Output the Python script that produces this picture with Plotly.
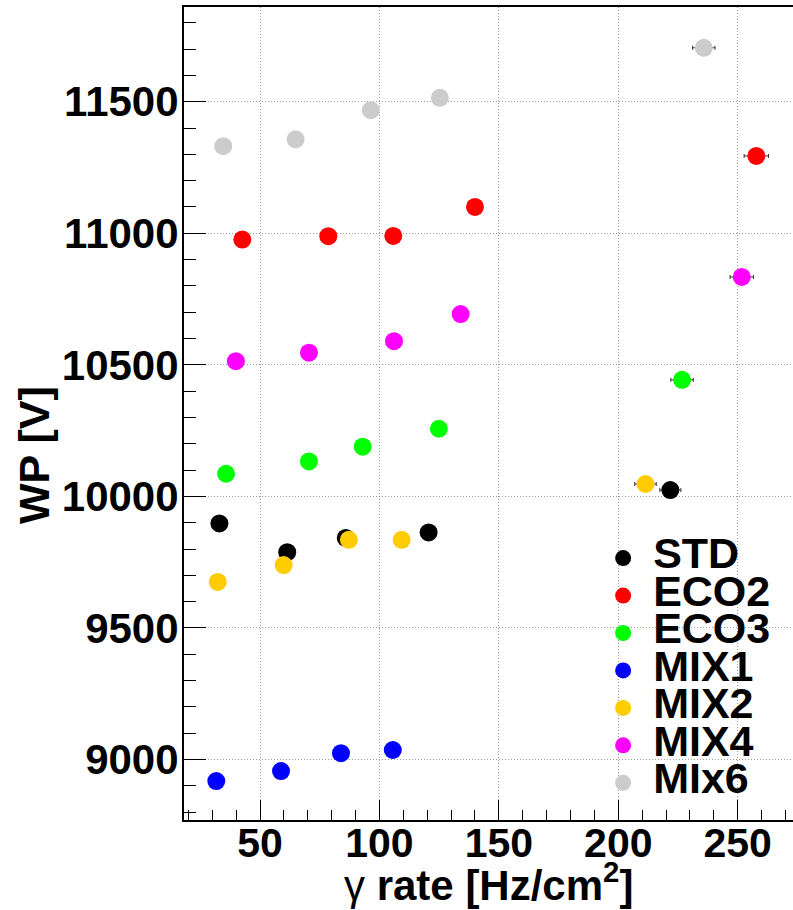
import plotly.graph_objects as go

# Gamma rate [Hz/cm^2] and working point [V] per gas mixture
std_rate = [33.0, 61.4, 85.9, 120.6, 221.8]
std_wp = [9897, 9788, 9842, 9863, 10024]
std_err = [0, 0, 0, 0, 4.4]

eco2_rate = [42.6, 78.6, 105.8, 140.0, 257.8]
eco2_wp = [10976, 10989, 10990, 11100, 11294]
eco2_err = [0, 0, 0, 0, 5.1]

eco3_rate = [35.8, 70.5, 93.0, 124.9, 226.7]
eco3_wp = [10086, 10133, 10189, 10257, 10443]
eco3_err = [0, 0, 0, 0, 4.7]

mix1_rate = [31.7, 58.8, 83.9, 105.6]
mix1_wp = [8918, 8956, 9024, 9036]
mix1_err = [0, 0, 0, 0]

mix2_rate = [32.3, 59.9, 87.2, 109.3, 211.4]
mix2_wp = [9675, 9739, 9835, 9835, 10047]
mix2_err = [0, 0, 0, 0, 4.5]

mix4_rate = [39.9, 70.5, 106.1, 134.0, 251.7]
mix4_wp = [10514, 10546, 10590, 10693, 10834]
mix4_err = [0, 0, 0, 0, 4.9]

mix6_rate = [34.6, 64.9, 96.4, 125.3, 235.8]
mix6_wp = [11331, 11357, 11468, 11515, 11705]
mix6_err = [0, 0, 0, 0, 4.7]

series = [
    ("STD", std_rate, std_wp, std_err, "#000000"),
    ("ECO2", eco2_rate, eco2_wp, eco2_err, "#ff0000"),
    ("ECO3", eco3_rate, eco3_wp, eco3_err, "#00ff00"),
    ("MIX1", mix1_rate, mix1_wp, mix1_err, "#0000ff"),
    ("MIX2", mix2_rate, mix2_wp, mix2_err, "#ffcc00"),
    ("MIX4", mix4_rate, mix4_wp, mix4_err, "#ff00ff"),
    ("MIx6", mix6_rate, mix6_wp, mix6_err, "#cccccc"),
]

FONT = "Liberation Sans"

fig = go.Figure()
for name, xs, ys, ex, color in series:
    fig.add_trace(go.Scatter(
        x=xs, y=ys, mode="markers",
        name='<span style="font-size:43px">' + name + "</span>",
        marker=dict(color=color, size=18, line=dict(width=0)),
        error_x=dict(type="data", array=ex, visible=True,
                     color="#333333", thickness=1, width=2),
    ))

fig.update_layout(
    width=793, height=910,
    margin=dict(l=184, r=0, t=7, b=90, pad=0),
    paper_bgcolor="white", plot_bgcolor="white",
    font=dict(family=FONT, color="black", weight="bold"),
    showlegend=True,
    legend=dict(
        x=0.6718, y=0.3513, xanchor="left", yanchor="top",
        bgcolor="rgba(0,0,0,0)", borderwidth=0,
        font=dict(family=FONT, size=26.5, color="black", weight="bold"),
        itemwidth=50,
    ),
)

GRID = dict(showgrid=True, gridcolor="#9a9a9a", griddash="1px,2px", gridwidth=1)

fig.update_xaxes(
    range=[18.18, 273.15],
    tickvals=[50, 100, 150, 200, 250],
    ticks="inside", ticklen=20, tickwidth=1, tickcolor="black",
    minor=dict(ticks="inside", ticklen=10, dtick=10, tick0=0,
               tickcolor="black", tickwidth=1, showgrid=False),
    showline=True, linecolor="black", linewidth=2, mirror=True,
    tickfont=dict(family=FONT, size=41, color="black", weight="bold"),
    ticklabelstandoff=-14,
    zeroline=False, **GRID,
)

fig.update_yaxes(
    range=[8770, 11860],
    tickvals=[9000, 9500, 10000, 10500, 11000, 11500],
    tickformat="d",
    ticks="inside", ticklen=22, tickwidth=1, tickcolor="black",
    minor=dict(ticks="inside", ticklen=12, dtick=100, tick0=0,
               tickcolor="black", tickwidth=1, showgrid=False),
    showline=True, linecolor="black", linewidth=2, mirror=False,
    tickfont=dict(family=FONT, size=42, color="black", weight="bold"),
    ticklabelstandoff=-5,
    zeroline=False, **GRID,
)

# Axis titles
fig.add_annotation(
    text="WP [V]", xref="paper", yref="paper",
    x=-0.2463, y=0.449, xanchor="center", yanchor="middle",
    textangle=-90, showarrow=False,
    font=dict(family=FONT, size=43, color="black", weight="bold"),
)
fig.add_annotation(
    text='<span style="font-weight:normal">γ</span> rate [Hz/cm<sup>2</sup>]',
    xref="paper", yref="paper",
    x=0.5, y=-0.076, xanchor="center", yanchor="middle",
    showarrow=False,
    font=dict(family=FONT, size=42, color="black", weight="bold"),
)

fig.write_html("out.html")
